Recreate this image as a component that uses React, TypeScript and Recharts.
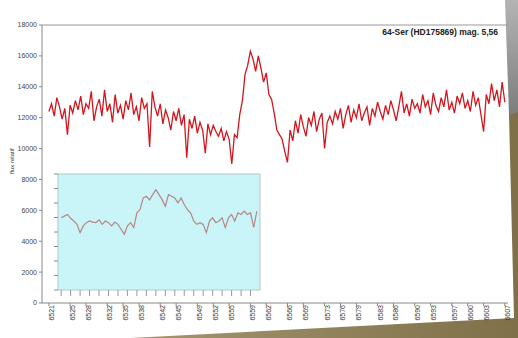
import { LineChart, Line, XAxis, YAxis, ReferenceLine, ReferenceArea } from 'recharts';

// main spectrum, flux sampled every 0.5 Å from 6521 Å
const startWave = 6521;
const waveStep = 0.5;
const fluxValues = [
  12400, 12900, 12100, 13300, 12700, 11900, 12600, 10900, 12800, 12300,
  13100, 12500, 13400, 12200, 12900, 12600, 13700, 11800, 12700, 13200,
  12100, 13800, 12400, 12900, 11700, 13500, 12300, 12800, 11900, 13100,
  12500, 13600, 12200, 12700, 11800, 13300, 12600, 12900, 10100, 13700,
  12700, 12100, 12900, 11600, 12500, 12000, 11200, 12400, 11800, 12600,
  11500, 12200, 9400, 11900, 11300, 12100, 11000, 11700, 11200, 9700,
  11600, 10900, 11500, 11100,
  10800, 11300, 10500, 11100, 10600, 9000, 10900,
  10700, 12200, 13100, 14800, 15400, 16300, 15800, 15000, 16000, 15200,
  14300, 14900, 13500, 13200, 12300, 11200, 10900, 10600, 9800, 9100,
  11200, 10500, 11800, 11000, 12200, 11400, 10800, 12000, 11500, 12400,
  11100, 11900, 12300, 10000, 11700, 12100,
  11600, 12400, 11900, 12600, 11300, 12200, 12800, 11700, 12500, 12000,
  12900, 11800, 12300, 12700, 11500, 12600, 12100, 13000, 12400, 11900,
  12800, 12200, 13100, 12500, 11800, 12700, 13700, 12300, 12900, 12100,
  13200, 12600,
  12900, 12300, 13500, 12700, 13100, 12200, 13600, 12800, 12400, 13300,
  12700, 13800, 12500, 13000, 12300, 13400, 12900, 13600, 12600, 13100,
  12400, 13700, 12800, 13300, 12200, 11100, 13500, 12900, 14200, 13100,
  13800, 12700, 14300, 13000,
];

const xTicks = [
  6521, 6525, 6528, 6532, 6535, 6538, 6542, 6545, 6549, 6552, 6555, 6559, 6562,
  6566, 6569, 6573, 6576, 6579, 6583, 6586, 6590, 6593, 6597, 6600, 6603, 6607,
];
const yTicks = [0, 2000, 4000, 6000, 8000, 10000, 12000, 14000, 16000, 18000];

// inset comparison spectrum
const insetValues = [
  5630, 5740, 5850, 5600, 5420, 5200, 4660, 5100, 5310, 5420,
  5350, 5310, 5500, 5200, 5420, 5310, 5100, 5350, 5200, 4880,
  4550, 5100, 5310, 4990, 5960, 6170, 6930, 7040, 6800, 7150,
  7470, 7150, 6820, 6390, 7150, 7040, 6930, 6610, 6930, 6500,
  6170, 5960, 5420, 5200, 5310, 5200, 4660, 5420, 5630, 5310,
  5420, 5630, 4990, 5630, 5850, 5420, 5960, 5850, 6070, 5850,
  5960, 5000, 6070,
];
const insetYTicks = [900, 1850, 2800, 3750, 4700, 5650, 6600, 7550, 8500];
const insetXTicks = [0, 3, 6, 9, 12, 15, 18, 21, 24, 27, 30, 33, 36, 39, 42, 45, 48, 51, 54, 57, 60];

const mainData = fluxValues.map((v, i) => ({ w: startWave + i * waveStep, v }));
const insetData = insetValues.map((v, i) => ({ i, v }));

const font = '"Liberation Sans", Arial, sans-serif';

export default function App() {
  return (
    <div style={{ position: 'fixed', left: 0, top: 0, width: 518, height: 338, background: '#fff', overflow: 'hidden', fontFamily: font }}>
      {/* photo backdrop: shadow past the paper edge */}
      <svg width={518} height={338} style={{ position: 'absolute', left: 0, top: 0 }}>
        <defs>
          <linearGradient id="shade" x1="0" y1="0" x2="0" y2="1">
            <stop offset="0%" stopColor="#b4b4b4" />
            <stop offset="100%" stopColor="#7c7c7c" />
          </linearGradient>
          <linearGradient id="olive" x1="0" y1="0" x2="1" y2="0">
            <stop offset="0%" stopColor="#a39670" />
            <stop offset="100%" stopColor="#7f7048" />
          </linearGradient>
        </defs>
        <polygon points="505,0 518,0 518,115 509,115" fill="url(#shade)" />
        <polygon points="509,115 518,112 518,338 130,338 514,318" fill="url(#olive)" />
      </svg>

      <div style={{ position: 'absolute', left: 0, top: 0 }}>
        <LineChart width={518} height={338} data={mainData} margin={{ top: 25, right: 10, bottom: 5, left: 8 }}>
          <XAxis
            dataKey="w"
            type="number"
            domain={[6519.7, 6607.6]}
            ticks={xTicks}
            interval={0}
            angle={-90}
            textAnchor="end"
            height={30}
            tickSize={3}
            tick={{ fontSize: 7, fill: '#333', fontFamily: font, dy: -3 }}
            stroke="#888"
          />
          <YAxis
            domain={[0, 18000]}
            ticks={yTicks}
            width={34}
            tickSize={3}
            tick={{ fontSize: 7, fill: '#444', fontFamily: font }}
            stroke="#888"
            label={{ value: 'flux relatif', angle: -90, position: 'insideLeft', offset: 4, dy: 10, style: { fontSize: 6, fill: '#333', fontFamily: font } }}
          />
          <ReferenceLine y={18000} stroke="#999" />
          <Line type="linear" dataKey="v" stroke="#d3161e" strokeWidth={1.3} dot={false} isAnimationActive={false} />
        </LineChart>
      </div>

      <div style={{ position: 'absolute', left: 340, top: 27, width: 158, textAlign: 'right', fontSize: 8.5, fontWeight: 'bold', color: '#222' }}>
        64-Ser (HD175869) mag. 5,56
      </div>

      <div style={{ position: 'absolute', left: 46, top: 168 }}>
        <LineChart width={218} height={136} data={insetData} margin={{ top: 6, right: 4, bottom: 0, left: 0 }}>
          <XAxis
            dataKey="i"
            type="number"
            domain={[-1, 63]}
            ticks={insetXTicks}
            interval={0}
            height={14}
            tickSize={6}
            tickFormatter={() => ''}
            axisLine={false}
            stroke="#999"
          />
          <YAxis
            domain={[900, 8500]}
            ticks={insetYTicks}
            width={12}
            tickSize={4}
            tickFormatter={() => ''}
            axisLine={false}
            stroke="#888"
          />
          <ReferenceArea y1={900} y2={8500} fill="#c9f5f8" fillOpacity={1} stroke="#b5c6c8" ifOverflow="visible" />
          <Line type="linear" dataKey="v" stroke="#b88585" strokeWidth={1.2} dot={false} isAnimationActive={false} />
        </LineChart>
      </div>
    </div>
  );
}
